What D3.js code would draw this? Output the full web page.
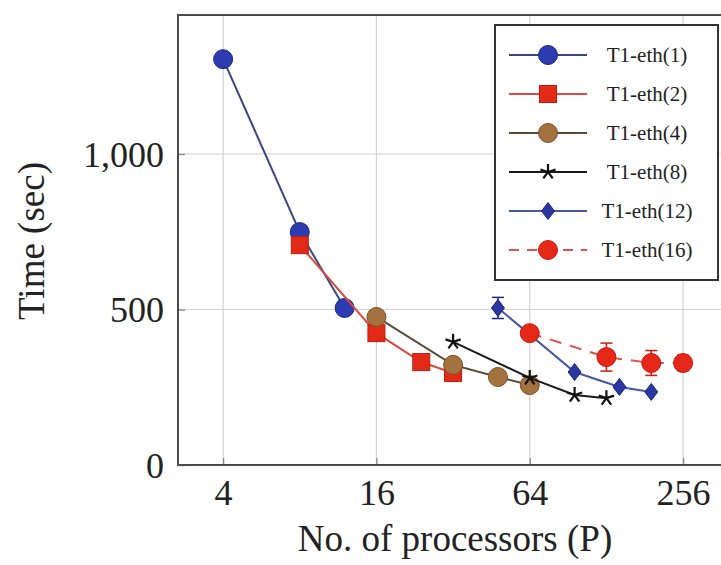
<!DOCTYPE html>
<html>
<head>
<meta charset="utf-8">
<script src="https://cdn.jsdelivr.net/npm/d3@7.9.0/dist/d3.min.js"></script>
<style>
  body { margin: 0; background: #fff; }
  svg text { font-family: 'Liberation Serif', 'Times New Roman', serif; fill: #222; }
</style>
</head>
<body>
<svg id="chart" width="721" height="565"></svg>
<script>
// values
const seriesNames = ['T1-eth(1)', 'T1-eth(2)', 'T1-eth(4)', 'T1-eth(8)', 'T1-eth(12)', 'T1-eth(16)'];
const procs1 = [4, 8, 12];
const time1 = [1305, 749, 505];
const procs2 = [8, 16, 24, 32];
const time2 = [707, 424, 331, 296];
const procs4 = [16, 32, 48, 64];
const time4 = [476, 322, 283, 257];
const procs8 = [32, 64, 96, 128];
const time8 = [396, 280, 225, 215];
const procs12 = [48, 96, 144, 192];
const time12 = [505, 299, 251, 235];
const err12 = [34, 0, 0, 0];
const procs16 = [64, 128, 192, 256];
const time16 = [424, 347, 328, 328];
const err16 = [0, 45, 40, 25];
const xTicks = [4, 16, 64, 256];
const yTicks = [0, 500, 1000];

const svg = d3.select('#chart');
const frame = { left: 178, right: 722, top: 15, bottom: 465 };

const x = d3.scaleLog().base(2).domain([2.66, 364]).range([frame.left, frame.right]);
const y = d3.scaleLinear().domain([0, 1447]).range([frame.bottom, frame.top]);

// grid
const grid = svg.append('g');
xTicks.forEach(t => {
  grid.append('line')
    .attr('x1', x(t)).attr('x2', x(t))
    .attr('y1', frame.top).attr('y2', frame.bottom)
    .attr('stroke', '#d2d2d2').attr('stroke-width', 1.2);
});
yTicks.forEach(t => {
  grid.append('line')
    .attr('x1', frame.left).attr('x2', frame.right)
    .attr('y1', y(t)).attr('y2', y(t))
    .attr('stroke', '#d2d2d2').attr('stroke-width', 1.2);
});

// axes with inward ticks
const xAxis = d3.axisBottom(x).tickValues(xTicks).tickSize(-7).tickPadding(14).tickFormat(d3.format('d'));
const yAxis = d3.axisLeft(y).tickValues(yTicks).tickSize(-7).tickPadding(14).tickFormat(d3.format(','));

const gx = svg.append('g').attr('transform', `translate(0,${frame.bottom})`).call(xAxis);
const gy = svg.append('g').attr('transform', `translate(${frame.left},0)`).call(yAxis);
[gx, gy].forEach(g => {
  g.select('.domain').remove();
  g.selectAll('line').attr('stroke', '#888').attr('stroke-width', 1.3);
  g.selectAll('text').attr('font-size', 36).attr('fill', '#222')
    .style('font-family', "'Liberation Serif', serif");
});
gx.selectAll('text').attr('dy', '0.71em');
gy.selectAll('text').attr('dy', '0.34em');

svg.append('rect')
  .attr('x', frame.left).attr('y', frame.top)
  .attr('width', frame.right - frame.left).attr('height', frame.bottom - frame.top)
  .attr('fill', 'none').attr('stroke', '#4a4a4a').attr('stroke-width', 2);

// axis titles
svg.append('text')
  .attr('x', 455).attr('y', 551)
  .attr('text-anchor', 'middle').attr('font-size', 37)
  .text('No. of processors (P)');

svg.append('text')
  .attr('transform', 'translate(44,241) rotate(-90)')
  .attr('text-anchor', 'middle').attr('font-size', 37)
  .text('Time (sec)');

// markers
function starPath(r) {
  let p = '';
  for (let i = 0; i < 5; i++) {
    const a = -Math.PI / 2 + i * 2 * Math.PI / 5;
    p += `M0,0L${(r * Math.cos(a)).toFixed(2)},${(r * Math.sin(a)).toFixed(2)}`;
  }
  return p;
}

function drawMarker(g, kind, fill, stroke) {
  if (kind === 'circle') {
    g.append('circle').attr('r', 9.5).attr('fill', fill).attr('stroke', stroke).attr('stroke-width', 1);
  } else if (kind === 'square') {
    g.append('rect').attr('x', -8.5).attr('y', -8.5).attr('width', 17).attr('height', 17)
      .attr('fill', fill).attr('stroke', stroke).attr('stroke-width', 1);
  } else if (kind === 'diamond') {
    g.append('path').attr('d', 'M0,-8.5L6.5,0L0,8.5L-6.5,0Z')
      .attr('fill', fill).attr('stroke', stroke).attr('stroke-width', 1);
  } else if (kind === 'star') {
    g.append('path').attr('d', starPath(8)).attr('fill', 'none')
      .attr('stroke', stroke).attr('stroke-width', 2.2);
  }
}

const series = [
  { name: seriesNames[0], px: procs1, py: time1, err: null, line: '#3b4680', fill: '#2c3bb0', edge: '#1c2780', marker: 'circle', dash: null },
  { name: seriesNames[1], px: procs2, py: time2, err: null, line: '#d84a42', fill: '#e22a16', edge: '#c01a10', marker: 'square', dash: null },
  { name: seriesNames[2], px: procs4, py: time4, err: null, line: '#5a4a35', fill: '#a4723e', edge: '#7a5228', marker: 'circle', dash: null },
  { name: seriesNames[3], px: procs8, py: time8, err: null, line: '#1a1a1a', fill: 'none', edge: '#111', marker: 'star', dash: null },
  { name: seriesNames[4], px: procs12, py: time12, err: err12, line: '#4756a8', fill: '#2a37a0', edge: '#1c2780', marker: 'diamond', dash: null },
  { name: seriesNames[5], px: procs16, py: time16, err: err16, line: '#e0504a', fill: '#e62818', edge: '#c81a10', marker: 'circle', dash: '12,9' }
];

const line = d3.line().x(d => x(d[0])).y(d => y(d[1]));

series.forEach(s => {
  const pts = s.px.map((p, i) => [p, s.py[i]]);
  const g = svg.append('g');
  g.append('path').datum(pts)
    .attr('d', line).attr('fill', 'none')
    .attr('stroke', s.line).attr('stroke-width', 2)
    .attr('stroke-dasharray', s.dash);
  if (s.err) {
    pts.forEach((d, i) => {
      const e = s.err[i];
      if (!e) return;
      const eg = g.append('g').attr('stroke', s.edge).attr('stroke-width', 1.5);
      eg.append('line').attr('x1', x(d[0])).attr('x2', x(d[0])).attr('y1', y(d[1] - e)).attr('y2', y(d[1] + e));
      eg.append('line').attr('x1', x(d[0]) - 6).attr('x2', x(d[0]) + 6).attr('y1', y(d[1] - e)).attr('y2', y(d[1] - e));
      eg.append('line').attr('x1', x(d[0]) - 6).attr('x2', x(d[0]) + 6).attr('y1', y(d[1] + e)).attr('y2', y(d[1] + e));
    });
  }
  pts.forEach(d => {
    const mg = g.append('g').attr('transform', `translate(${x(d[0])},${y(d[1])})`);
    drawMarker(mg, s.marker, s.fill, s.edge);
  });
});

// legend
const legend = svg.append('g');
legend.append('rect')
  .attr('x', 495).attr('y', 25).attr('width', 223).attr('height', 255)
  .attr('fill', '#fff').attr('stroke', '#333').attr('stroke-width', 2);

series.forEach((s, i) => {
  const ly = 55 + i * 39;
  const row = legend.append('g').attr('transform', `translate(0,${ly})`);
  row.append('line').attr('x1', 509).attr('x2', 587).attr('y1', 0).attr('y2', 0)
    .attr('stroke', s.line).attr('stroke-width', 2).attr('stroke-dasharray', s.dash ? '10,8' : null);
  const mg = row.append('g').attr('transform', 'translate(548,0)');
  drawMarker(mg, s.marker, s.fill, s.edge);
  row.append('text').attr('x', 647).attr('y', 0).attr('dy', '0.35em')
    .attr('text-anchor', 'middle').attr('font-size', 21)
    .text(s.name);
});
</script>
</body>
</html>
